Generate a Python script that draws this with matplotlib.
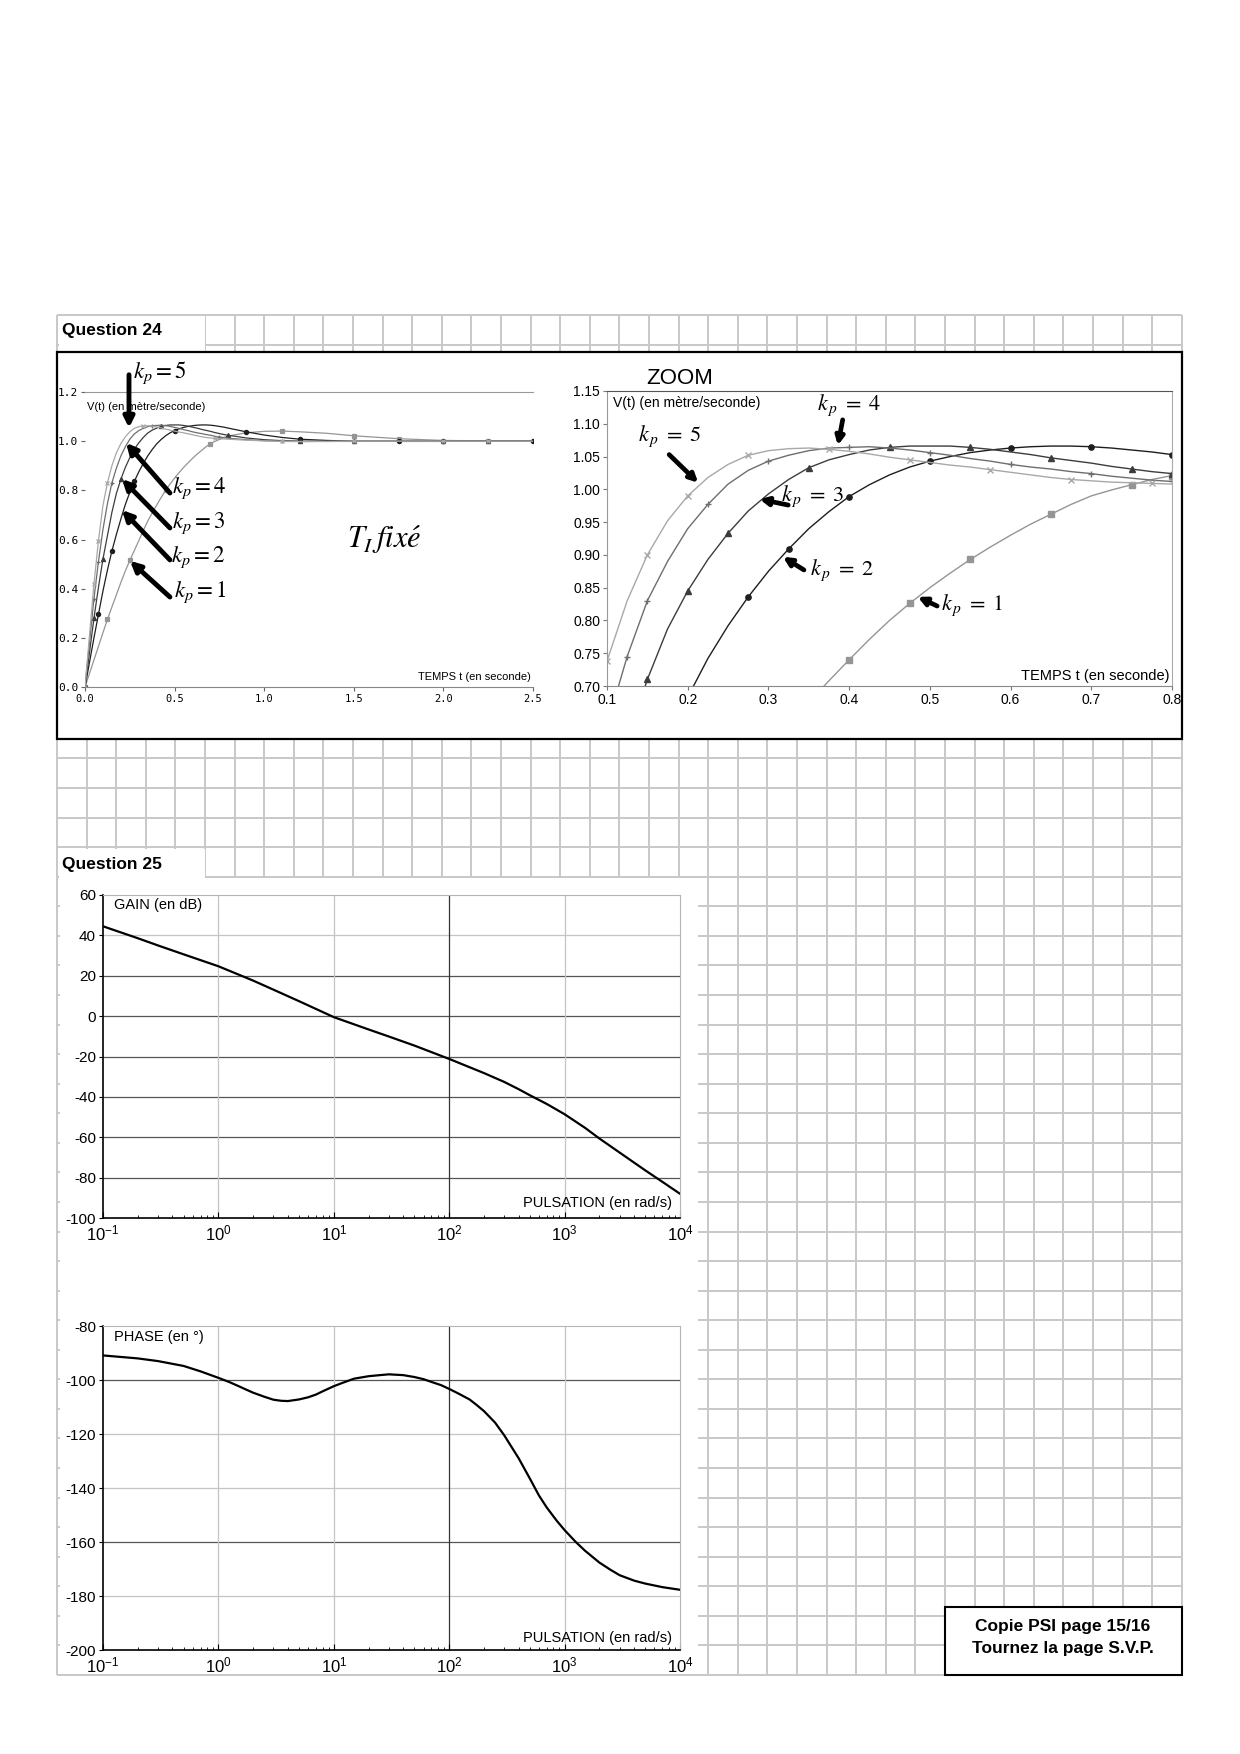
import numpy as np
import matplotlib
matplotlib.use('Agg')
import matplotlib.pyplot as plt
from matplotlib.patches import Rectangle
from matplotlib.ticker import NullFormatter

plt.rcParams['font.family'] = ['Liberation Sans', 'DejaVu Sans']

# --- step responses V(t) ---
t_step = [0, 0.05, 0.075, 0.1, 0.125, 0.15, 0.175, 0.2, 0.225, 0.25, 0.275, 0.3, 0.325, 0.35,
          0.375, 0.4, 0.425, 0.45, 0.475, 0.5, 0.525, 0.55, 0.575, 0.6, 0.625, 0.65, 0.675, 0.7,
          0.725, 0.75, 0.775, 0.8, 0.9, 1.0, 1.1, 1.2, 1.35, 1.5, 1.75, 2.0, 2.25, 2.5]
v_kp1 = [0, 0.11, 0.165, 0.22, 0.275, 0.325, 0.375, 0.425, 0.472, 0.515, 0.555, 0.595, 0.636, 0.675,
         0.708, 0.74, 0.771, 0.80, 0.826, 0.85, 0.872, 0.893, 0.912, 0.93, 0.947, 0.962, 0.977, 0.99,
         0.999, 1.007, 1.015, 1.021, 1.034, 1.04, 1.041, 1.038, 1.032, 1.022, 1.01, 1.003, 1.001, 1.0]
v_kp2 = [0, 0.2, 0.295, 0.39, 0.475, 0.553, 0.62, 0.683, 0.742, 0.792, 0.836, 0.875, 0.909, 0.94,
         0.966, 0.989, 1.007, 1.022, 1.034, 1.043, 1.05, 1.056, 1.06, 1.063, 1.065, 1.066, 1.066, 1.065,
         1.063, 1.06, 1.057, 1.053, 1.038, 1.025, 1.015, 1.008, 1.003, 1.0, 0.999, 0.999, 1.0, 1.0]
v_kp3 = [0, 0.28, 0.405, 0.52, 0.615, 0.71, 0.787, 0.845, 0.893, 0.933, 0.967, 0.993, 1.015, 1.033,
         1.045, 1.053, 1.06, 1.064, 1.066, 1.066, 1.066, 1.064, 1.061, 1.057, 1.053, 1.048, 1.044, 1.04,
         1.035, 1.031, 1.027, 1.024, 1.013, 1.006, 1.002, 1.0, 0.999, 0.999, 1.0, 1.0, 1.0, 1.0]
v_kp4 = [0, 0.36, 0.51, 0.64, 0.745, 0.83, 0.89, 0.94, 0.977, 1.008, 1.029, 1.043, 1.052, 1.059,
         1.063, 1.064, 1.065, 1.063, 1.06, 1.056, 1.052, 1.047, 1.043, 1.038, 1.034, 1.031, 1.027, 1.024,
         1.02, 1.017, 1.014, 1.012, 1.006, 1.002, 1.0, 0.999, 0.999, 1.0, 1.0, 1.0, 1.0, 1.0]
v_kp5 = [0, 0.42, 0.595, 0.738, 0.83, 0.90, 0.952, 0.99, 1.018, 1.038, 1.052, 1.059, 1.062, 1.063,
         1.061, 1.058, 1.054, 1.049, 1.045, 1.041, 1.037, 1.034, 1.03, 1.026, 1.022, 1.018, 1.015, 1.013,
         1.011, 1.010, 1.009, 1.008, 1.004, 1.001, 0.999, 0.998, 0.999, 1.0, 1.0, 1.0, 1.0, 1.0]

# --- Bode diagram, Question 25 ---
w_gain = [0.1, 0.2, 0.3, 0.5, 1, 2, 3, 5, 10, 20, 30, 50, 100, 150, 200, 300, 400, 500, 700,
          1000, 1500, 2000, 3000, 5000, 7000, 10000]
gain_db = [44.5, 38.6, 35.0, 30.6, 24.7, 17.6, 13.1, 7.4, -0.5, -6.6, -10.1, -14.6, -21.2, -25.3,
           -28.2, -32.6, -36.2, -39.2, -43.5, -48.6, -55.3, -60.6, -67.6, -76.4, -82.0, -88.0]
w_phase = [0.1, 0.2, 0.3, 0.5, 0.7, 1, 1.25, 1.5, 1.75, 2, 2.5, 3, 3.5, 4, 5, 6, 7, 8, 10, 12,
           15, 20, 25, 30, 40, 50, 60, 70, 85, 100, 120, 150, 170, 200, 250, 300, 400, 500, 600,
           700, 850, 1000, 1250, 1500, 2000, 2500, 3000, 4000, 5000, 7000, 10000]
phase_deg = [-90.9, -92.0, -93.0, -94.8, -96.8, -99.2, -100.8, -102.3, -103.6, -104.7, -106.2,
             -107.3, -107.7, -107.8, -107.2, -106.4, -105.4, -104.2, -102.3, -101.0, -99.5, -98.6,
             -98.2, -97.9, -98.2, -98.9, -99.7, -100.7, -101.9, -103.3, -105.0, -107.2, -109.0,
             -111.5, -115.8, -120.5, -129.0, -136.5, -142.8, -147.2, -152.0, -155.6, -160.0,
             -163.2, -167.6, -170.3, -172.3, -174.3, -175.4, -176.7, -177.7]

W, H = 1240, 1754
fig = plt.figure(figsize=(12.4, 17.54), dpi=100)


def px_axes(l, t, r, b):
    return fig.add_axes([l / W, 1 - b / H, (r - l) / W, (b - t) / H])


def arrow(ax, x0, y0, x1, y1, lw=3.5, ms=15):
    ax.annotate('', xy=(x1, y1), xytext=(x0, y0), annotation_clip=False,
                arrowprops=dict(arrowstyle='-|>', color='k', lw=lw, shrinkA=0, shrinkB=0,
                                mutation_scale=ms))


# background: squared paper and white boxes
bg = fig.add_axes([0, 0, 1, 1])
bg.set_xlim(0, W)
bg.set_ylim(H, 0)
bg.axis('off')
gx = 57 + 29.6 * np.arange(39)
gy = 315 + 29.565 * np.arange(47)
bg.vlines(gx, 315, 1675, color='#c8c8c8', lw=1.4, zorder=1)
bg.hlines(gy, 57, 1182, color='#c8c8c8', lw=1.4, zorder=1)
bg.add_patch(Rectangle((58.5, 316), 146, 36, fc='white', ec='none', zorder=2))
bg.add_patch(Rectangle((58.5, 848.5), 146, 30, fc='white', ec='none', zorder=2))
bg.add_patch(Rectangle((59.5, 878), 638.5, 795.5, fc='white', ec='none', zorder=2))
bg.add_patch(Rectangle((57, 352), 1125, 387, fc='white', ec='black', lw=1.6, zorder=3))
bg.add_patch(Rectangle((945, 1607), 237, 68, fc='white', ec='black', lw=1.5, zorder=3))
bg.text(62, 335, 'Question 24', fontsize=12.5, weight='bold', va='baseline', zorder=4)
bg.text(62, 869, 'Question 25', fontsize=12.5, weight='bold', va='baseline', zorder=4)
bg.text(680, 378, 'ZOOM', fontsize=16, ha='center', va='center', zorder=4)
bg.text(1063, 1627, 'Copie PSI page 15/16', fontsize=12.5, weight='bold', ha='center', va='center', zorder=4)
bg.text(1063, 1648, 'Tournez la page S.V.P.', fontsize=12.5, weight='bold', ha='center', va='center', zorder=4)

curves = [v_kp1, v_kp2, v_kp3, v_kp4, v_kp5]
colors = ['#959595', '#1e1e1e', '#3c3c3c', '#6e6e6e', '#a8a8a8']
markers = ['s', 'o', '^', '+', 'x']

# ---- chart 1 : full response ----
ax1 = px_axes(85, 392, 533, 687)
ax1.set_xlim(0, 2.5)
ax1.set_ylim(0, 1.2)
for v, c, m in zip(curves, colors, markers):
    ax1.plot(t_step, v, color=c, lw=0.9, marker=m, ms=3, mew=0.9, markevery=0.13)
for s in ['left', 'right']:
    ax1.spines[s].set_visible(False)
ax1.spines['top'].set_color('#999999')
ax1.spines['bottom'].set_color('#888888')
ax1.set_xticks([0, 0.5, 1.0, 1.5, 2.0, 2.5])
ax1.set_xticklabels(['0.0', '0.5', '1.0', '1.5', '2.0', '2.5'], family='DejaVu Sans Mono', fontsize=7.5)
ax1.set_yticks([0, 0.2, 0.4, 0.6, 0.8, 1.0, 1.2])
ax1.set_yticklabels(['0.0', '0.2', '0.4', '0.6', '0.8', '1.0', '1.2'], family='DejaVu Sans Mono', fontsize=8)
ax1.tick_params(length=3, color='#666666', pad=2)
ax1.text(0.01, 1.14, 'V(t) (en mètre/seconde)', fontsize=8, va='center')
ax1.text(2.49, 0.04, 'TEMPS t (en seconde)', fontsize=8, ha='right', va='center')
ax1.text(1.46, 0.598, r'$T_I\,fix\acute{e}$', fontsize=22, math_fontfamily='stix', va='center')
arrow(ax1, 0.2455, 1.27, 0.2455, 1.054)
ax1.text(0.268, 1.277, r'$k_p=5$', fontsize=16.5, math_fontfamily='stix', va='center')
for (tx, ty), (x0, y0, x1, y1), lab in zip(
        [(0.485, 0.81), (0.485, 0.667), (0.48, 0.529), (0.495, 0.386)],
        [(0.474, 0.789, 0.229, 0.993), (0.474, 0.647, 0.206, 0.846),
         (0.474, 0.517, 0.206, 0.72), (0.474, 0.366, 0.251, 0.513)],
        ['4', '3', '2', '1']):
    arrow(ax1, x0, y0, x1, y1)
    ax1.text(tx, ty, r'$k_p=' + lab + '$', fontsize=16.5, math_fontfamily='stix', va='center')

# ---- chart 2 : zoom ----
ax2 = px_axes(607, 391, 1172, 686)
ax2.set_xlim(0.1, 0.8)
ax2.set_ylim(0.70, 1.15)
for v, c, m in zip(curves, colors, markers):
    ax2.plot(t_step, v, color=c, lw=1.0, marker=m, ms=3.8, mew=1.0, markevery=0.13)
ax2.spines['top'].set_color('#555555')
ax2.spines['right'].set_color('#aaaaaa')
ax2.spines['left'].set_color('#999999')
ax2.spines['bottom'].set_color('#888888')
ax2.set_xticks([0.1, 0.2, 0.3, 0.4, 0.5, 0.6, 0.7, 0.8])
ax2.set_xticklabels(['0.1', '0.2', '0.3', '0.4', '0.5', '0.6', '0.7', '0.8'], fontsize=10)
yt2 = [0.70, 0.75, 0.80, 0.85, 0.90, 0.95, 1.00, 1.05, 1.10, 1.15]
ax2.set_yticks(yt2)
ax2.set_yticklabels(['%.2f' % y for y in yt2], fontsize=10)
ax2.tick_params(length=3, color='#777777', pad=2)
ax2.text(0.1077, 1.132, 'V(t) (en mètre/seconde)', fontsize=10, va='center')
ax2.text(0.797, 0.715, 'TEMPS t (en seconde)', fontsize=10.5, ha='right', va='center')
for (tx, ty), (x0, y0, x1, y1), lab in zip(
        [(0.139, 1.081), (0.36, 1.129), (0.315, 0.989), (0.351, 0.876), (0.514, 0.823)],
        [(0.177, 1.053, 0.213, 1.010), (0.392, 1.106, 0.386, 1.067), (0.3245, 0.976, 0.289, 0.985),
         (0.344, 0.877, 0.318, 0.897), (0.509, 0.822, 0.485, 0.836)],
        ['5', '4', '3', '2', '1']):
    arrow(ax2, x0, y0, x1, y1, lw=3.4, ms=12)
    ax2.text(tx, ty, r'$k_{\,p}\;=\;' + lab + '$', fontsize=16, math_fontfamily='stix', va='center')


# ---- Bode plots ----
def bode_axes(ax, yticks, dark_rows, light_rows):
    ax.set_xscale('log')
    ax.set_xlim(0.1, 1e4)
    ax.set_ylim(yticks[0], yticks[-1])
    for y in light_rows:
        ax.axhline(y, color='#c4c4c4', lw=0.9, zorder=0)
    for y in dark_rows:
        ax.axhline(y, color='#555555', lw=0.9, zorder=0)
    for x in [1, 10, 1000]:
        ax.axvline(x, color='#c4c4c4', lw=0.9, zorder=0)
    ax.axvline(100, color='#333333', lw=0.9, zorder=0)
    ax.spines['top'].set_color('#b5b5b5')
    ax.spines['right'].set_color('#b5b5b5')
    ax.spines['left'].set_linewidth(1.2)
    ax.spines['bottom'].set_linewidth(1.2)
    ax.set_xticks([0.1, 1, 10, 100, 1000, 10000])
    ax.set_xticklabels([r'$\mathregular{10^{-1}}$', r'$\mathregular{10^{0}}$', r'$\mathregular{10^{1}}$',
                        r'$\mathregular{10^{2}}$', r'$\mathregular{10^{3}}$', r'$\mathregular{10^{4}}$'],
                       fontsize=12)
    ax.xaxis.set_minor_formatter(NullFormatter())
    ax.tick_params(axis='x', which='major', direction='in', length=4, pad=4)
    ax.tick_params(axis='x', which='minor', direction='in', length=2.5)
    ax.set_yticks(yticks)
    ax.set_yticklabels([str(y) for y in yticks], fontsize=11)
    ax.tick_params(axis='y', direction='out', length=3, pad=2)


axg = px_axes(103, 895, 680, 1218)
bode_axes(axg, [-100, -80, -60, -40, -20, 0, 20, 40, 60], [-80, -60, -40, -20, 0, 20], [40])
axg.plot(w_gain, gain_db, color='black', lw=1.6)
axg.text(0.125, 55, 'GAIN (en dB)', fontsize=10.5, va='center')
axg.text(8500, -92.5, 'PULSATION (en rad/s)', fontsize=10.5, ha='right', va='center')

axp = px_axes(103, 1326, 680, 1650)
bode_axes(axp, [-200, -180, -160, -140, -120, -100, -80], [-100, -160], [-120, -140, -180])
axp.plot(w_phase, phase_deg, color='black', lw=1.6)
axp.text(0.125, -84, 'PHASE (en °)', fontsize=10.5, va='center')
axp.text(8500, -195.5, 'PULSATION (en rad/s)', fontsize=10.5, ha='right', va='center')

fig.savefig('out.png', dpi=100)
